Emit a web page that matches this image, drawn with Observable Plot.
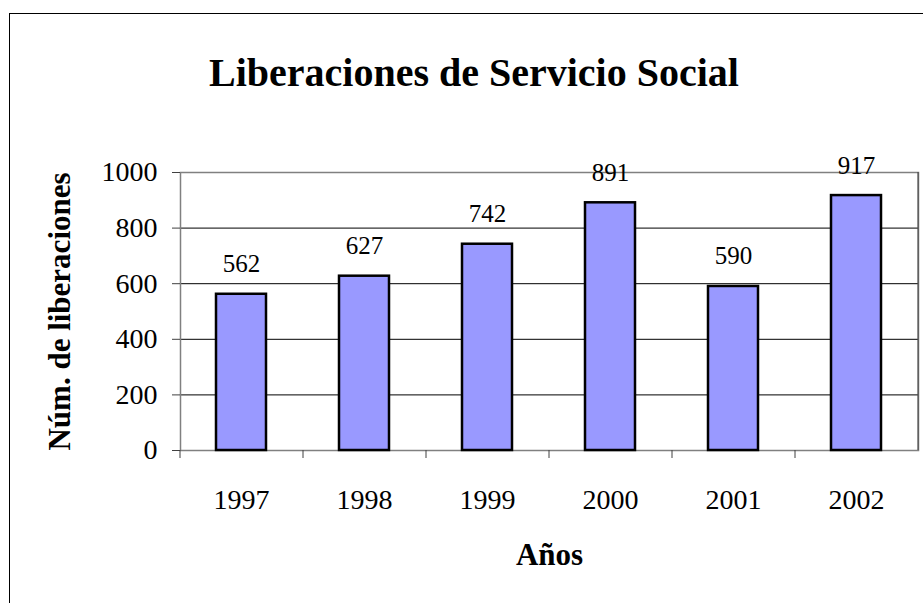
<!DOCTYPE html>
<html>
<head>
<meta charset="utf-8">
<script src="https://cdn.jsdelivr.net/npm/d3@7"></script>
<script src="https://cdn.jsdelivr.net/npm/@observablehq/plot@0.6"></script>
<style>
  html, body { margin: 0; padding: 0; width: 923px; height: 603px; overflow: hidden; background: #fff; }
  #frame { position: absolute; left: 9px; top: 13px; width: 1000px; height: 700px;
           border-left: 1px solid #000; border-top: 1px solid #000; box-sizing: border-box; }
  #title { position: absolute; left: 0; top: 53px; width: 948px; text-align: center;
           font-weight: bold; font-size: 40px; line-height: 40px; color: #000; }
  #chart { position: absolute; left: 0; top: 120px; }
  body, body *, svg text { font-family: "Liberation Serif", serif !important; }
</style>
</head>
<body>
<div id="frame"></div>
<div id="title">Liberaciones de Servicio Social</div>
<div id="chart"></div>
<script>
const years = ["1997", "1998", "1999", "2000", "2001", "2002"];
const values = [562, 627, 742, 891, 590, 917];
const yTicks = [0, 200, 400, 600, 800, 1000];
const gridTicks = [200, 400, 600, 800];
const yTitle = "Núm. de liberaciones";
const xTitle = "Años";

const data = years.map((year, i) => ({year, value: values[i]}));

const W = 923, H = 483, mL = 180, mR = 5, mT = 52, mB = 153;
const step = (W - mL - mR) / years.length;
const FONT = "Liberation Serif";

const chart = Plot.plot({
  width: W, height: H,
  marginLeft: mL, marginRight: mR, marginTop: mT, marginBottom: mB,
  style: {fontFamily: FONT, background: "transparent", color: "#000", overflow: "visible"},
  x: {domain: years, paddingInner: 0.59, paddingOuter: 0.295, axis: null},
  y: {domain: [0, 1000], axis: null},
  marks: [
    Plot.gridY(gridTicks, {stroke: "#000", strokeOpacity: 1, strokeWidth: 1}),
    Plot.frame({stroke: "#808080", strokeWidth: 1.5}),
    Plot.barY(data, {x: "year", y: "value", fill: "#9999FF", stroke: "#000", strokeWidth: 2.5}),
    Plot.text(data, {x: "year", y: "value", text: d => String(d.value), dy: -30, fontSize: 25, fill: "#000", fontFamily: FONT}),
    Plot.axisY({ticks: yTicks, tickSize: 8, tickPadding: 15, fontSize: 28, tickFormat: d => String(d), stroke: "#404040", label: null, fontFamily: FONT}),
    Plot.axisX({tickSize: 0, tickPadding: 39, fontSize: 28, label: null, fontFamily: FONT}),
    Plot.ruleX(years, {x: d => d, y1: 0, y2: 0, dx: -step / 2, stroke: "#404040", insetBottom: -8}),
    Plot.tickX([years[years.length - 1]], {x: d => d, dx: step / 2, stroke: "#404040"}),
    Plot.text([yTitle], {frameAnchor: "left", textAnchor: "middle", rotate: -90, dx: -120, fontSize: 31, fontWeight: "bold", fill: "#000", fontFamily: FONT}),
    Plot.text([xTitle], {frameAnchor: "bottom", dy: 114, fontSize: 31, fontWeight: "bold", fill: "#000", fontFamily: FONT})
  ]
});
document.getElementById("chart").appendChild(chart);
document.querySelectorAll("div, svg, text, g").forEach(el => el.style.setProperty("font-family", "'Liberation Serif', serif", "important"));
</script>
</body>
</html>
